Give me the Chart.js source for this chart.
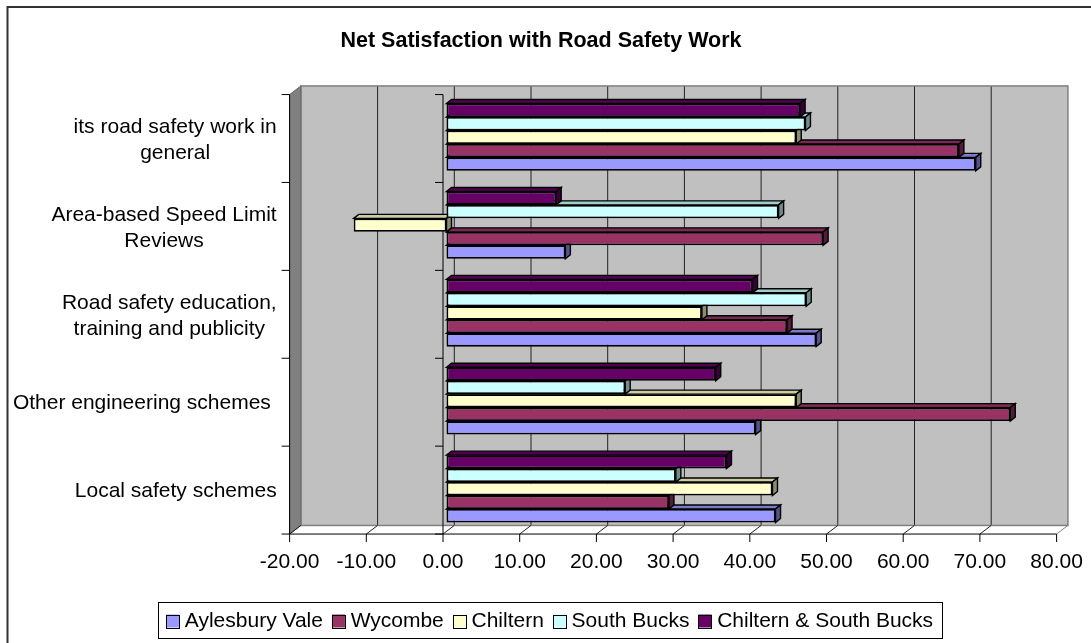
<!DOCTYPE html>
<html>
<head>
<meta charset="utf-8">
<title>Net Satisfaction with Road Safety Work</title>
<script src="https://cdn.jsdelivr.net/npm/chart.js@4.4.1/dist/chart.umd.min.js"></script>
<style>
  html, body { margin: 0; padding: 0; background: #fff; }
</style>
</head>
<body>
<canvas id="satChart" width="1091" height="643"></canvas>
<script>
// categories top to bottom, each one split into its wrapped lines
const categories = [
  ['its road safety work in', 'general'],
  ['Area-based Speed Limit', 'Reviews'],
  ['Road safety education,', 'training and publicity'],
  ['Other engineering schemes '],
  ['Local safety schemes']
];

const aylesburyVale      = [69.0, 15.5, 48.2, 40.3, 42.9];
const wycombe            = [66.8, 49.1, 44.4, 73.5, 29.0];
const chiltern           = [45.6, -12.1, 33.3, 45.6, 42.5];
const southBucks         = [46.8, 43.3, 46.9, 23.3, 29.9];
const chilternSouthBucks = [46.1, 14.3, 39.9, 35.1, 36.5];

const xMin = -20, xMax = 80, xStep = 10;
const chartTitle = 'Net Satisfaction with Road Safety Work';

const FONT = '"Liberation Sans", Arial, sans-serif';
const FRONT = { x: -3.5, y: 1.3 };   // bar plane -> front plane
const DEPTH = { x: 11.3, y: -8.6 };  // front plane -> back wall
const BAR3D = { x: 5, y: -4 };       // bar thickness in depth

function shade(hex, f) {
  const n = parseInt(hex.slice(1), 16);
  const r = Math.round(((n >> 16) & 255) * f);
  const g = Math.round(((n >> 8) & 255) * f);
  const b = Math.round((n & 255) * f);
  return `rgb(${r},${g},${b})`;
}

function poly(ctx, pts, fill, stroke, lw) {
  ctx.beginPath();
  ctx.moveTo(pts[0][0], pts[0][1]);
  for (let i = 1; i < pts.length; i++) ctx.lineTo(pts[i][0], pts[i][1]);
  ctx.closePath();
  if (fill) { ctx.fillStyle = fill; ctx.fill(); }
  if (stroke) { ctx.strokeStyle = stroke; ctx.lineWidth = lw || 1; ctx.stroke(); }
}

function line(ctx, x1, y1, x2, y2) {
  ctx.beginPath();
  ctx.moveTo(x1, y1);
  ctx.lineTo(x2, y2);
  ctx.stroke();
}

const box3d = {
  id: 'box3d',
  beforeDatasetsDraw(chart) {
    const { ctx, chartArea: a, scales: { x, y } } = chart;
    const fx = v => x.getPixelForValue(v) + FRONT.x;
    const bx = v => fx(v) + DEPTH.x;
    const fTop = a.top + FRONT.y, fBot = a.bottom + FRONT.y;
    const bTop = fTop + DEPTH.y, bBot = fBot + DEPTH.y;

    ctx.save();
    // back wall with gridlines
    ctx.fillStyle = '#c0c0c0';
    ctx.fillRect(bx(xMin), bTop, bx(xMax) - bx(xMin), bBot - bTop);
    ctx.strokeStyle = '#222';
    ctx.lineWidth = 1;
    x.ticks.forEach(t => {
      if (t.value > xMin && t.value < xMax) line(ctx, bx(t.value), bTop, bx(t.value), bBot);
    });
    ctx.strokeStyle = '#808080';
    ctx.lineWidth = 1.5;
    ctx.strokeRect(bx(xMin), bTop, bx(xMax) - bx(xMin), bBot - bTop);

    // left side wall
    poly(ctx, [[fx(xMin), fTop], [bx(xMin), bTop], [bx(xMin), bBot], [fx(xMin), fBot]], '#808080', '#666', 1);

    // floor
    ctx.strokeStyle = '#222';
    ctx.lineWidth = 1;
    x.ticks.forEach(t => {
      if (t.value < xMax) line(ctx, bx(t.value), bBot, fx(t.value), fBot);
    });
    ctx.strokeStyle = '#808080';
    line(ctx, bx(xMax), bBot, fx(xMax), fBot);

    // value axis line and ticks
    ctx.strokeStyle = '#000';
    line(ctx, fx(xMin), fBot, fx(xMax), fBot);
    x.ticks.forEach(t => line(ctx, fx(t.value), fBot, fx(t.value), fBot + 8));

    // category axis at zero, plus ticks on the side wall edge
    line(ctx, fx(0), fTop, fx(0), fBot);
    line(ctx, fx(xMin), fTop, fx(xMin), fBot);
    for (let i = 0; i <= categories.length; i++) {
      const ty = y.getPixelForValue(i - 0.5) + FRONT.y;
      line(ctx, fx(0) - 8, ty, fx(0), ty);
      line(ctx, fx(xMin) - 8, ty, fx(xMin), ty);
    }
    ctx.restore();
  },

  afterDatasetDraw(chart, args) {
    const { ctx } = chart;
    const ds = chart.data.datasets[args.index];
    ctx.save();
    args.meta.data.forEach(bar => {
      const { x, y, base, height } = bar.getProps(['x', 'y', 'base', 'height'], true);
      const l = Math.min(x, base), r = Math.max(x, base);
      const t = y - height / 2, b = y + height / 2;
      const dx = BAR3D.x, dy = BAR3D.y;
      poly(ctx, [[l, t], [l + dx, t + dy], [r + dx, t + dy], [r, t]], shade(ds.backgroundColor, 0.8), '#000', 1.4);
      poly(ctx, [[r, t], [r + dx, t + dy], [r + dx, b + dy], [r, b]], shade(ds.backgroundColor, 0.55), '#000', 1.4);
    });
    ctx.restore();
  },

  afterDraw(chart) {
    const { ctx, chartArea: a, scales: { x, y } } = chart;
    const fx = v => x.getPixelForValue(v) + FRONT.x;
    const fBot = a.bottom + FRONT.y;
    ctx.save();
    ctx.fillStyle = '#000';

    // category labels, each block right-aligned with its lines centred
    ctx.font = `21px ${FONT}`;
    ctx.textBaseline = 'middle';
    ctx.textAlign = 'center';
    const right = a.left - 16.4;
    categories.forEach((lines, i) => {
      const blockW = Math.max(...lines.map(s => ctx.measureText(s).width));
      const cx = right - blockW / 2;
      const cy = y.getPixelForValue(i) + FRONT.y + 1.5;
      lines.forEach((s, k) => ctx.fillText(s, cx, cy + (k - (lines.length - 1) / 2) * 26));
    });

    // value tick labels
    x.ticks.forEach(t => ctx.fillText(t.value.toFixed(2), fx(t.value), fBot + 28));

    // title
    ctx.font = `bold 21.5px ${FONT}`;
    ctx.fillText(chartTitle, 541, 41.5);

    // legend: series in bottom-to-top order, framed
    ctx.font = `21px ${FONT}`;
    ctx.textAlign = 'left';
    const items = chart.data.datasets.slice().reverse();
    const widths = items.map(d => ctx.measureText(d.label).width);
    const box = 13, gapText = 5.7, gapItem = 9;
    const total = widths.reduce((s, w) => s + box + gapText + w, 0) + gapItem * (items.length - 1);
    const legMid = 621;
    let lx = 549.6 - total / 2;
    ctx.strokeStyle = '#000';
    ctx.lineWidth = 1;
    ctx.strokeRect(Math.round(lx - 7.7) + 0.5, 602.5, Math.round(total + 16.7), 36);
    items.forEach((d, i) => {
      ctx.fillStyle = d.backgroundColor;
      ctx.fillRect(lx, legMid - box / 2, box, box);
      ctx.strokeRect(Math.round(lx) + 0.5, Math.round(legMid - box / 2) + 0.5, box, box);
      ctx.fillStyle = '#000';
      ctx.fillText(d.label, lx + box + gapText, legMid);
      lx += box + gapText + widths[i] + gapItem;
    });

    // outer chart frame
    ctx.strokeStyle = '#333';
    ctx.lineWidth = 2;
    ctx.strokeRect(7.5, 7, 2000, 2000);
    ctx.restore();
  }
};

const seriesTopDown = [
  { label: 'Chiltern & South Bucks', data: chilternSouthBucks, color: '#660066' },
  { label: 'South Bucks', data: southBucks, color: '#CCFFFF' },
  { label: 'Chiltern', data: chiltern, color: '#FFFFCC' },
  { label: 'Wycombe', data: wycombe, color: '#993366' },
  { label: 'Aylesbury Vale', data: aylesburyVale, color: '#9999FF' }
];

new Chart(document.getElementById('satChart').getContext('2d'), {
  type: 'bar',
  data: {
    labels: categories.map(c => c.join(' ').trim()),
    datasets: seriesTopDown.map(s => ({
      label: s.label,
      data: s.data,
      backgroundColor: s.color,
      borderColor: '#000',
      borderWidth: 1.8,
      borderSkipped: false,
      categoryPercentage: 0.766,
      barPercentage: 1.0,
      clip: false
    }))
  },
  options: {
    indexAxis: 'y',
    responsive: false,
    animation: false,
    layout: { padding: { top: 93.25, left: 39.1, right: 30.9, bottom: 0 } },
    plugins: {
      tooltip: { enabled: false },
      title: { display: false },
      legend: { display: false }
    },
    scales: {
      x: {
        type: 'linear',
        min: xMin,
        max: xMax,
        ticks: { stepSize: xStep, display: false },
        grid: { display: false },
        border: { display: false },
        afterFit(s) { s.height = 110.25; }
      },
      y: {
        type: 'category',
        ticks: { display: false },
        grid: { display: false },
        border: { display: false },
        afterFit(s) { s.width = 254; }
      }
    }
  },
  plugins: [box3d]
});
</script>
</body>
</html>
